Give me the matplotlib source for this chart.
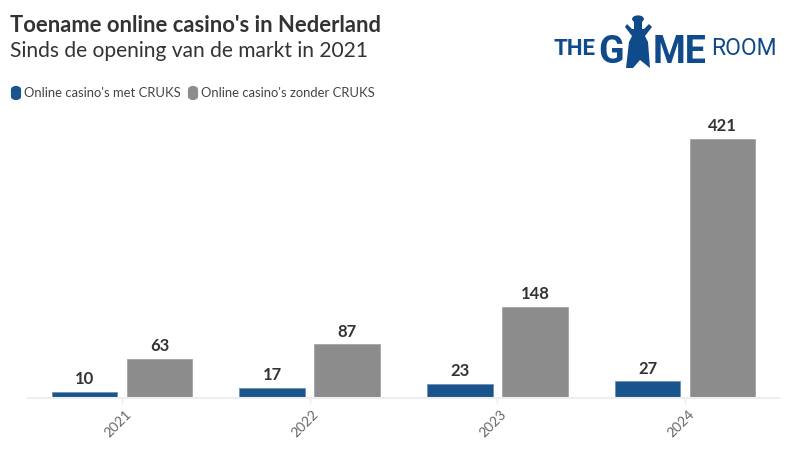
import matplotlib
matplotlib.use("Agg")
import matplotlib.pyplot as plt
from matplotlib.patches import FancyBboxPatch, Polygon, Circle
from matplotlib.transforms import ScaledTranslation

years = ["2021", "2022", "2023", "2024"]
met_cruks = [10, 17, 23, 27]
zonder_cruks = [63, 87, 148, 421]
series_names = ["Online casino's met CRUKS", "Online casino's zonder CRUKS"]
title = "Toename online casino's in Nederland"
subtitle = "Sinds de opening van de markt in 2021"
BLUE = "#19548c"
GRAY = "#8c8c8c"
LOGO = "#0f4a8a"
DARK = "#333333"
plt.rcParams["font.family"] = ["Lato", "DejaVu Sans"]

W, H = 800, 450
fig = plt.figure(figsize=(8, 4.5), dpi=100)
fx = lambda x: x / W
fy = lambda y: 1 - y / H

ax = fig.add_axes([fx(28), fy(398), (779 - 28) / W, (398 - 110) / H])
ax.set_xlim(-0.5, 3.5)
ax.set_ylim(0, 288 / (259 / 421))
xs = range(len(years))
bw, off = 0.349, 0.2
b1 = ax.bar([x - off for x in xs], met_cruks, bw, color=BLUE, edgecolor="#6f93b5", linewidth=0.6)
b2 = ax.bar([x + off for x in xs], zonder_cruks, bw, color=GRAY, edgecolor="#a5a5a5", linewidth=0.6)
for bars in (b1, b2):
    ax.bar_label(bars, padding=3.5, fontsize=12, fontweight="bold", color=DARK)
for s in ("top", "left", "right"):
    ax.spines[s].set_visible(False)
ax.spines["bottom"].set_color("#eeeeee")
ax.spines["bottom"].set_linewidth(1.5)
ax.set_yticks([])
ax.set_xticks(list(xs))
ax.set_xticklabels(years, rotation=45, ha="right", rotation_mode="anchor", fontsize=10, color="#666666")
ax.tick_params(axis="x", length=4.5, width=1, color="#eeeeee", pad=3)
shift = ScaledTranslation(2 / 72, 0, fig.dpi_scale_trans)
for lab in ax.get_xticklabels():
    lab.set_transform(lab.get_transform() + shift)

fig.text(fx(10), fy(25), title, fontsize=15.8, fontweight="bold", color=DARK, va="center")
fig.text(fx(10), fy(51), subtitle, fontsize=15.15, color=DARK, va="center")

for x0, col, name, tx in [(11, BLUE, series_names[0], 24), (188, GRAY, series_names[1], 201)]:
    fig.add_artist(FancyBboxPatch((fx(x0 + 2), fy(98)), 6 / W, 10 / H, boxstyle="round,pad=0,rounding_size=0.004",
                                  transform=fig.transFigure, facecolor=col, edgecolor=col, linewidth=3))
    fig.text(fx(tx), fy(93), name, fontsize=9.4, color="#444444", va="center")

# logo
logo_txt = [("THE", 553, 55, 16, "bold"), ("G", 598, 63, 27, "bold"), ("ME", 653, 63, 27, "bold"), ("ROOM", 711, 55, 16.5, "normal")]
for s, x, y, fs, wt in logo_txt:
    fig.text(fx(x), fy(y), s, fontsize=fs, fontweight=wt, family="Roboto", color=LOGO, va="baseline")
fig.add_artist(Circle((fx(638), fy(19)), 0.0065, transform=fig.transFigure, color=LOGO))
body = [(627, 24), (632, 29), (634, 29), (634, 22), (642, 22), (642, 29), (644, 29), (649, 24),
        (652, 27), (645, 36), (648, 42), (650, 68), (640, 60), (633, 68), (626, 68), (629, 42), (632, 36), (625, 27)]
fig.add_artist(Polygon([(fx(a), fy(b)) for a, b in body], closed=True, transform=fig.transFigure,
                       facecolor=LOGO, edgecolor="none"))
fig.savefig("out.png", dpi=100)
